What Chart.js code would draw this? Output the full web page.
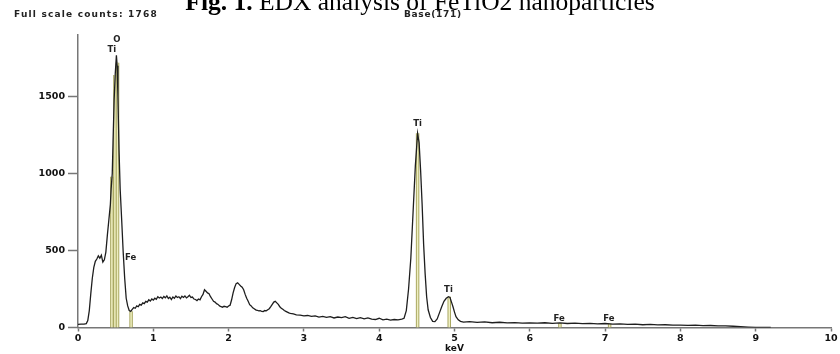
<!DOCTYPE html>
<html><head><meta charset="utf-8">
<script src="https://cdn.jsdelivr.net/npm/chart.js@4/dist/chart.umd.min.js"></script>
<style>html,body{margin:0;padding:0;background:#fff;}#wrap{width:840px;height:354px;position:relative;}</style>
</head><body><div id="wrap"><canvas id="c" width="840" height="354"></canvas></div>
<script>
// ---- data ----
const energyKeV = [0,0.04,0.08,0.11,0.13,0.15,0.17,0.19,0.21,0.23,0.25,0.27,0.29,0.31,0.33,0.35,0.37,0.39,0.41,0.43,0.44,0.455,0.465,0.48,0.495,0.51,0.52,0.53,0.545,0.56,0.58,0.60,0.62,0.64,0.66,0.68,0.70,0.72,0.74,0.76,0.78,0.80,0.82,0.84,0.86,0.88,0.90,0.92,0.94,0.96,0.98,1.00,1.02,1.04,1.06,1.08,1.10,1.12,1.14,1.16,1.18,1.20,1.22,1.24,1.26,1.28,1.30,1.32,1.34,1.36,1.38,1.40,1.42,1.44,1.46,1.48,1.50,1.52,1.54,1.56,1.58,1.60,1.62,1.64,1.66,1.68,1.70,1.72,1.74,1.76,1.78,1.80,1.82,1.84,1.86,1.88,1.90,1.92,1.94,1.96,1.98,2.00,2.02,2.04,2.06,2.08,2.10,2.12,2.14,2.16,2.18,2.20,2.22,2.24,2.26,2.28,2.30,2.32,2.34,2.36,2.38,2.40,2.42,2.44,2.46,2.48,2.50,2.52,2.54,2.56,2.58,2.60,2.62,2.64,2.66,2.68,2.70,2.72,2.74,2.76,2.78,2.80,2.82,2.86,2.90,2.95,3.00,3.05,3.10,3.15,3.20,3.25,3.30,3.35,3.40,3.45,3.50,3.55,3.60,3.65,3.70,3.75,3.80,3.85,3.90,3.95,4.00,4.05,4.10,4.15,4.20,4.25,4.30,4.33,4.36,4.39,4.42,4.45,4.48,4.51,4.53,4.55,4.57,4.59,4.61,4.63,4.65,4.68,4.71,4.74,4.77,4.80,4.83,4.86,4.89,4.92,4.94,4.96,4.98,5.00,5.02,5.05,5.08,5.12,5.2,5.3,5.4,5.5,5.6,5.7,5.8,5.9,6.0,6.1,6.2,6.3,6.4,6.5,6.6,6.7,6.8,6.9,7.0,7.1,7.2,7.3,7.4,7.5,7.6,7.7,7.8,7.9,8.0,8.1,8.2,8.3,8.4,8.5,8.6,8.7,8.8,8.9,9.0,9.1,9.2,9.3,9.4,9.5,9.6,10.0];
const counts = [20,22,22,25,45,110,220,320,390,430,445,465,450,470,425,440,490,600,700,800,900,1000,1200,1480,1650,1768,1700,1500,1150,900,700,490,320,190,140,110,105,118,130,125,140,135,150,145,160,155,170,165,180,172,185,178,190,183,200,192,198,188,202,193,205,188,197,182,198,190,205,195,200,188,203,195,205,192,200,210,195,198,185,182,175,185,180,200,215,245,235,225,220,200,185,170,165,155,150,140,135,132,138,135,132,140,145,180,225,260,285,290,280,270,262,245,215,190,170,148,140,128,122,115,112,108,110,104,103,110,108,115,122,135,150,165,170,160,150,135,125,118,110,105,100,95,92,88,82,80,75,78,72,75,68,72,66,70,62,68,64,70,60,66,58,64,56,62,54,52,60,50,54,48,52,50,55,60,110,250,450,750,1050,1261,1200,1020,800,540,350,200,115,65,40,38,55,95,135,170,190,200,195,165,135,100,70,50,40,35,38,33,36,31,34,30,32,28,30,29,31,27,30,26,28,25,27,23,26,22,24,20,22,18,20,17,18,15,16,14,15,12,13,11,10,8,6,3,1,0,0];
const markerKeV = [0.45,0.49,0.525,0.705,4.51,4.93,6.40,7.06];
const markerTop = [980,1640,1720,105,1261,200,28,24];
const labelText = ['O','Ti','Fe','Ti','Ti','Fe','Fe'];
const labelKeV = [0.515,0.448,0.70,4.51,4.92,6.39,7.05];
const labelCounts = [1871,1807,456,1323,244,55,55];
const xTicks = [0,1,2,3,4,5,6,7,8,9,10];
const yTicks = [0,500,1000,1500];
const titleBold = 'Fig. 1.';
const titleRest = ' EDX analysis of FeTiO2 nanoparticles';
const fullScaleText = 'Full scale counts: 1768';
const baseText = 'Base(171)';

Chart.defaults.font.family = '"DejaVu Sans", Arial, sans-serif';

const spectrum = energyKeV.map((x,i)=>({x:x,y:counts[i]}));
const markers = [];
markerKeV.forEach((x,i)=>{ markers.push({x:x,y:0},{x:x,y:markerTop[i]},{x:x,y:null}); });

const textPlugin = {
  id:'texts',
  afterDraw(chart){
    const ctx = chart.ctx, xs = chart.scales.x, ys = chart.scales.y;
    ctx.save();
    ctx.textBaseline = 'alphabetic';
    ctx.fillStyle = '#000';
    const fs = 25.5;
    ctx.font = 'bold '+fs+'px "Liberation Serif"';
    const wb = ctx.measureText(titleBold).width;
    ctx.font = fs+'px "Liberation Serif"';
    const wr = ctx.measureText(titleRest).width;
    const x0 = 420 - (wb+wr)/2;
    ctx.font = 'bold '+fs+'px "Liberation Serif"';
    ctx.textAlign = 'left';
    ctx.fillText(titleBold, x0, 10);
    ctx.font = fs+'px "Liberation Serif"';
    ctx.fillText(titleRest, x0+wb, 10);
    ctx.font = 'bold 9px "DejaVu Sans"';
    ctx.letterSpacing = '1.2px';
    ctx.fillStyle = '#222';
    ctx.textBaseline = 'middle';
    ctx.fillText(fullScaleText, 14, 15);
    ctx.letterSpacing = '0.7px';
    ctx.fillText(baseText, 404, 15);
    ctx.letterSpacing = '0px';
    ctx.font = 'bold 8.5px "DejaVu Sans"';
    ctx.textAlign = 'center';
    labelText.forEach((t,i)=>{
      ctx.fillText(t, xs.getPixelForValue(labelKeV[i]), ys.getPixelForValue(labelCounts[i]));
    });
    ctx.restore();
  }
};

new Chart(document.getElementById('c'), {
  type:'line',
  data:{datasets:[
    {data:spectrum, borderColor:'#1e1e1e', borderWidth:1.3, pointRadius:0, tension:0, order:0},
    {data:markers, borderColor:'#eeeec0', borderWidth:1.5, pointRadius:0, spanGaps:false, order:1},
    {data:markers, borderColor:'#a9a862', borderWidth:3.5, pointRadius:0, spanGaps:false, order:2}
  ]},
  options:{
    responsive:false, animation:false, devicePixelRatio:1,
    layout:{padding:{top:35,right:9,left:0,bottom:0}},
    plugins:{legend:{display:false}, tooltip:{enabled:false}},
    scales:{
      x:{type:'linear', min:0, max:10,
        afterBuildTicks:s=>{s.ticks = xTicks.map(v=>({value:v}));},
        afterFit:s=>{s.height = 26.5;},
        ticks:{font:{weight:'bold',size:9.5}, color:'#111', padding:1, maxRotation:0, autoSkip:false, callback:v=>String(v)},
        grid:{drawOnChartArea:false, tickLength:4, color:'#777', tickWidth:1.5},
        border:{color:'#777', width:1.5},
        title:{display:true, text:'keV', font:{weight:'bold',size:9}, color:'#111', padding:0}
      },
      y:{type:'linear', min:0, max:1900,
        afterBuildTicks:s=>{s.ticks = yTicks.map(v=>({value:v}));},
        afterFit:s=>{s.width = 78;},
        ticks:{font:{weight:'bold',size:9.5}, color:'#111', padding:3, callback:v=>String(v)},
        grid:{drawOnChartArea:false, tickLength:10, color:'#777', tickWidth:1.5},
        border:{color:'#777', width:1.5}
      }
    }
  },
  plugins:[textPlugin]
});
</script></body></html>
